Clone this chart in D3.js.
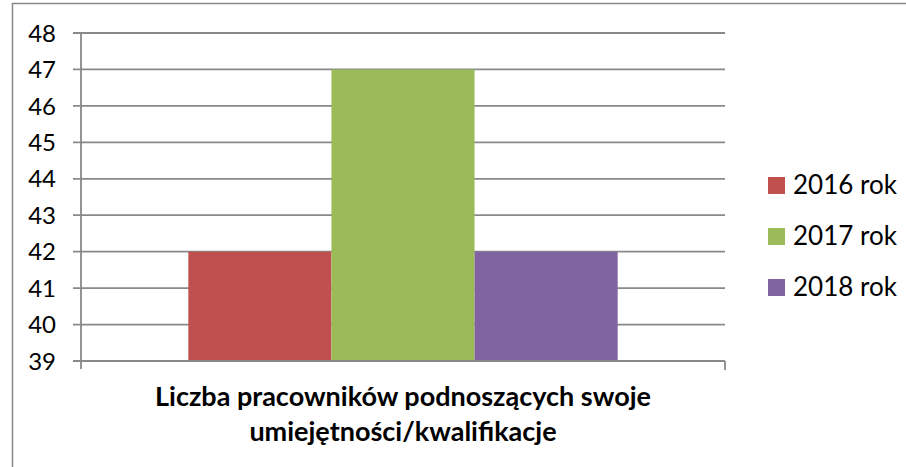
<!DOCTYPE html>
<html>
<head>
<meta charset="utf-8">
<script src="https://cdn.jsdelivr.net/npm/d3@7"></script>
<style>
  body { margin: 0; background: #fff; }
  svg text { font-family: Lato, "Open Sans", sans-serif; fill: #000; }
</style>
</head>
<body>
<div id="chart"></div>
<script>
var w = 906;
var h = 467;

// data
var series = ["2016 rok", "2017 rok", "2018 rok"];
var values = [42, 47, 42];
var colors = ["#C0504D", "#9BBB59", "#8064A2"];
var yTicks = [39, 40, 41, 42, 43, 44, 45, 46, 47, 48];
var titleLines = ["Liczba pracowników podnoszących swoje", "umiejętności/kwalifikacje"];

var plot = { left: 81, right: 725, top: 33, bottom: 361 };

var svg = d3.select("#chart")
  .append("svg")
  .attr("width", w)
  .attr("height", h);

// outer chart border (runs off the right and bottom edges)
svg.append("rect")
  .attr("x", 12.5)
  .attr("y", 3.5)
  .attr("width", 920)
  .attr("height", 500)
  .attr("fill", "#fff")
  .attr("stroke", "#868686")
  .attr("stroke-width", 1.5);

var y = d3.scaleLinear()
  .domain([39, 48])
  .range([plot.bottom, plot.top]);

// one category, three series -> gap width 150%
var x = d3.scaleBand()
  .domain(series)
  .range([plot.left, plot.right])
  .paddingInner(0)
  .paddingOuter(0.75);

// gridlines
svg.append("g")
  .selectAll("line")
  .data(yTicks)
  .enter()
  .append("line")
  .attr("x1", plot.left - 8)
  .attr("x2", plot.right)
  .attr("y1", d => y(d))
  .attr("y2", d => y(d))
  .attr("stroke", "#898989")
  .attr("stroke-width", 1.8);

// bars
svg.append("g")
  .selectAll("rect")
  .data(values)
  .enter()
  .append("rect")
  .attr("x", (d, i) => x(series[i]))
  .attr("width", x.bandwidth())
  .attr("y", d => y(d))
  .attr("height", d => y(39) - y(d))
  .attr("fill", (d, i) => colors[i]);

// y axis line
svg.append("line")
  .attr("x1", plot.left)
  .attr("x2", plot.left)
  .attr("y1", plot.top)
  .attr("y2", plot.bottom + 8)
  .attr("stroke", "#898989")
  .attr("stroke-width", 1.8);

// x axis baseline + end tick
svg.append("line")
  .attr("x1", plot.left)
  .attr("x2", plot.right)
  .attr("y1", plot.bottom)
  .attr("y2", plot.bottom)
  .attr("stroke", "#898989")
  .attr("stroke-width", 1.8);
svg.append("line")
  .attr("x1", plot.right)
  .attr("x2", plot.right)
  .attr("y1", plot.bottom)
  .attr("y2", plot.bottom + 9)
  .attr("stroke", "#898989")
  .attr("stroke-width", 1.8);

// y tick labels
svg.append("g")
  .selectAll("text")
  .data(yTicks)
  .enter()
  .append("text")
  .attr("x", 56)
  .attr("y", d => y(d))
  .attr("dy", "0.36em")
  .attr("text-anchor", "end")
  .attr("font-size", "24px")
  .text(d => d);

// category title
svg.append("g")
  .selectAll("text")
  .data(titleLines)
  .enter()
  .append("text")
  .attr("x", (plot.left + plot.right) / 2)
  .attr("y", (d, i) => 406 + i * 35)
  .attr("text-anchor", "middle")
  .attr("font-size", "27px")
  .attr("font-weight", "bold")
  .text(d => d);

// legend
var legend = svg.append("g")
  .attr("transform", "translate(768, 177)");

var legendItems = legend.selectAll(".legend-item")
  .data(series)
  .enter()
  .append("g")
  .attr("class", "legend-item")
  .attr("transform", (d, i) => "translate(0," + (i * 51) + ")");

legendItems.append("rect")
  .attr("width", 17)
  .attr("height", 17)
  .attr("fill", (d, i) => colors[i]);

legendItems.append("text")
  .attr("x", 25)
  .attr("y", 17)
  .attr("font-size", "26px")
  .text(d => d);
</script>
</body>
</html>
